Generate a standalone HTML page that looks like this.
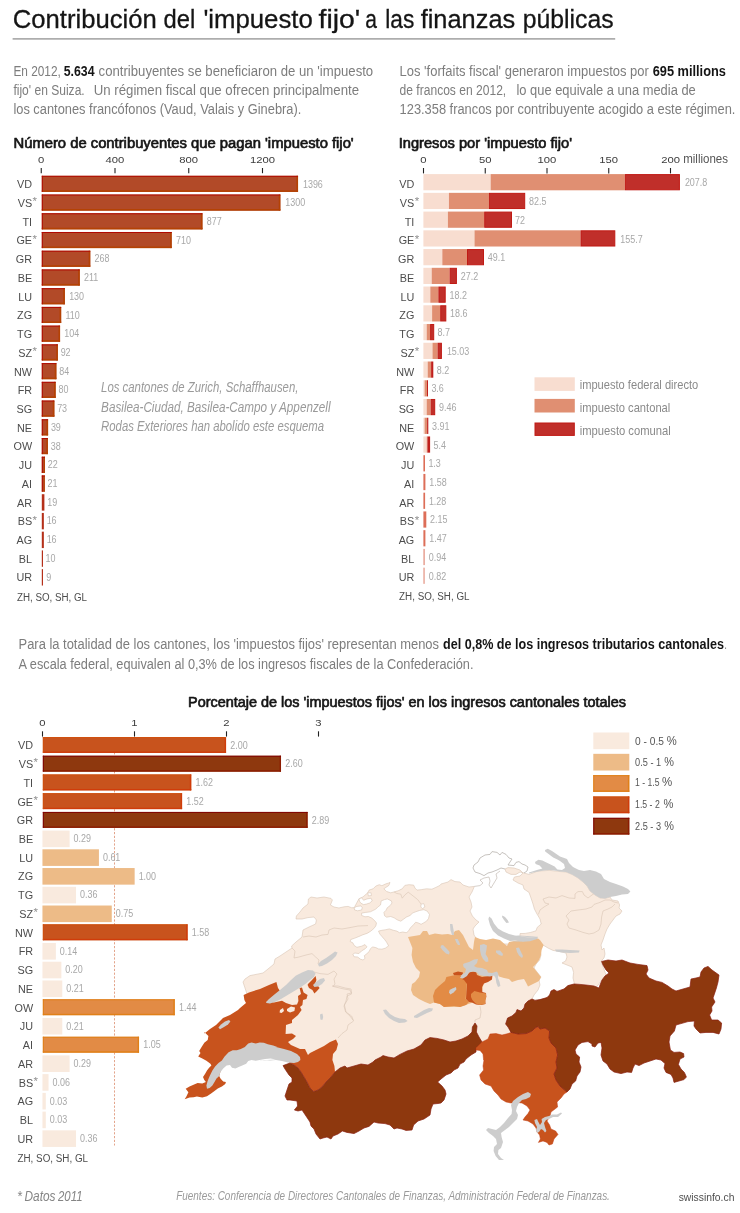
<!DOCTYPE html>
<html lang="es">
<head>
<meta charset="utf-8">
<title>Contribución del 'impuesto fijo' a las finanzas públicas</title>
<style>
html, body { margin: 0; padding: 0; background: #ffffff; }
body { width: 740px; height: 1213px; overflow: hidden; }
#graphic { display: block; width: 740px; height: 1213px; background: #ffffff; }
#graphic text { font-family: "Liberation Sans", sans-serif; white-space: pre; }
#title text { stroke: #151515; stroke-width: 0.3px; }
#chart-titles text { stroke: #151515; stroke-width: 0.65px; stroke-linejoin: round; }
</style>
</head>
<body>
<svg id="graphic" width="740" height="1213" viewBox="0 0 740 1213">
<g id="title">
<text y="28.40" font-size="26" fill="#151515"><tspan x="12.70" textLength="144.20" lengthAdjust="spacingAndGlyphs">Contribución</tspan> <tspan x="163.60" textLength="31.70" lengthAdjust="spacingAndGlyphs">del</tspan> <tspan x="203.40" textLength="109.40" lengthAdjust="spacingAndGlyphs">'impuesto</tspan> <tspan x="318.50" textLength="41.70" lengthAdjust="spacingAndGlyphs">fijo'</tspan> <tspan x="365.20" textLength="11.70" lengthAdjust="spacingAndGlyphs">a</tspan> <tspan x="385.30" textLength="29.00" lengthAdjust="spacingAndGlyphs">las</tspan> <tspan x="420.70" textLength="94.50" lengthAdjust="spacingAndGlyphs">finanzas</tspan> <tspan x="522.80" textLength="90.80" lengthAdjust="spacingAndGlyphs">públicas</tspan></text>
<rect x="12.60" y="38.20" width="602.60" height="1.40" fill="#9a9a9a"/>
</g>
<g id="intro-left">
<text x="13.40" y="75.50" font-size="14" fill="#7d7d7d" textLength="47.40" lengthAdjust="spacingAndGlyphs">En 2012,</text>
<text x="63.70" y="75.50" font-size="14" fill="#151515" textLength="30.80" lengthAdjust="spacingAndGlyphs" font-weight="bold">5.634</text>
<text x="98.60" y="75.50" font-size="14" fill="#7d7d7d" textLength="274.60" lengthAdjust="spacingAndGlyphs">contribuyentes se beneficiaron de un 'impuesto</text>
<text y="94.80" font-size="14" fill="#7d7d7d"><tspan x="13.40" textLength="71.30" lengthAdjust="spacingAndGlyphs">fijo' en Suiza.</tspan> <tspan x="93.70" textLength="265.40" lengthAdjust="spacingAndGlyphs">Un régimen fiscal que ofrecen principalmente</tspan></text>
<text x="13.40" y="113.50" font-size="14" fill="#7d7d7d" textLength="287.90" lengthAdjust="spacingAndGlyphs">los cantones francófonos (Vaud, Valais y Ginebra).</text>
</g>
<g id="intro-right">
<text x="399.60" y="75.50" font-size="14" fill="#7d7d7d" textLength="249.20" lengthAdjust="spacingAndGlyphs">Los 'forfaits fiscal' generaron impuestos por</text>
<text x="652.70" y="75.50" font-size="14" fill="#151515" textLength="73.20" lengthAdjust="spacingAndGlyphs" font-weight="bold">695 millions</text>
<text y="94.80" font-size="14" fill="#7d7d7d"><tspan x="399.60" textLength="106.60" lengthAdjust="spacingAndGlyphs">de francos en 2012,</tspan> <tspan x="516.40" textLength="179.40" lengthAdjust="spacingAndGlyphs">lo que equivale a una media de</tspan></text>
<text x="399.60" y="113.50" font-size="14" fill="#7d7d7d" textLength="335.80" lengthAdjust="spacingAndGlyphs">123.358 francos por contribuyente acogido a este régimen.</text>
</g>
<g id="chart-titles">
<text x="13.50" y="148.00" font-size="14" fill="#151515" textLength="340.20" lengthAdjust="spacingAndGlyphs">Número de contribuyentes que pagan 'impuesto fijo'</text>
<text x="398.75" y="148.00" font-size="14" fill="#151515" textLength="173.25" lengthAdjust="spacingAndGlyphs">Ingresos por 'impuesto fijo'</text>
<text x="188.00" y="706.50" font-size="14" fill="#151515" textLength="438.00" lengthAdjust="spacingAndGlyphs">Porcentaje de los 'impuestos fijos' en los ingresos cantonales totales</text>
</g>
<g id="chart1">
<line x1="41.25" y1="168.00" x2="41.25" y2="173.20" stroke="#222" stroke-width="1.1"/>
<text x="38.11" y="163.00" font-size="9.4" fill="#3c3c3c" textLength="6.27" lengthAdjust="spacingAndGlyphs">0</text>
<line x1="115.00" y1="168.00" x2="115.00" y2="173.20" stroke="#222" stroke-width="1.1"/>
<text x="105.59" y="163.00" font-size="9.4" fill="#3c3c3c" textLength="18.82" lengthAdjust="spacingAndGlyphs">400</text>
<line x1="188.75" y1="168.00" x2="188.75" y2="173.20" stroke="#222" stroke-width="1.1"/>
<text x="179.34" y="163.00" font-size="9.4" fill="#3c3c3c" textLength="18.82" lengthAdjust="spacingAndGlyphs">800</text>
<line x1="262.49" y1="168.00" x2="262.49" y2="173.20" stroke="#222" stroke-width="1.1"/>
<text x="249.95" y="163.00" font-size="9.4" fill="#3c3c3c" textLength="25.09" lengthAdjust="spacingAndGlyphs">1200</text>
<rect x="41.80" y="175.80" width="256.24" height="16.10" fill="#b24a28"/>
<rect x="41.80" y="190.30" width="256.24" height="1.60" fill="#b44204"/>
<rect x="296.44" y="175.80" width="1.60" height="16.10" fill="#b44204"/>
<rect x="41.80" y="175.80" width="256.24" height="1.00" fill="#b00a02"/>
<rect x="41.80" y="175.80" width="1.00" height="16.10" fill="#b00a02"/>
<text x="17.07" y="188.30" font-size="11.7" fill="#4d4d4d" textLength="15.03" lengthAdjust="spacingAndGlyphs">VD</text>
<text x="302.94" y="187.50" font-size="10" fill="#a8a8a8" textLength="19.91" lengthAdjust="spacingAndGlyphs">1396</text>
<rect x="41.80" y="194.53" width="238.56" height="16.10" fill="#b24a28"/>
<rect x="41.80" y="209.03" width="238.56" height="1.60" fill="#b44204"/>
<rect x="278.76" y="194.53" width="1.60" height="16.10" fill="#b44204"/>
<rect x="41.80" y="194.53" width="238.56" height="1.00" fill="#b00a02"/>
<rect x="41.80" y="194.53" width="1.00" height="16.10" fill="#b00a02"/>
<text x="17.66" y="207.02" font-size="11.7" fill="#4d4d4d" textLength="14.44" lengthAdjust="spacingAndGlyphs">VS</text>
<text x="32.60" y="205.42" font-size="11.5" fill="#909090" textLength="4.48" lengthAdjust="spacingAndGlyphs">*</text>
<text x="285.26" y="206.22" font-size="10" fill="#a8a8a8" textLength="19.91" lengthAdjust="spacingAndGlyphs">1300</text>
<rect x="41.80" y="213.26" width="160.64" height="16.10" fill="#b24a28"/>
<rect x="41.80" y="227.76" width="160.64" height="1.60" fill="#b44204"/>
<rect x="200.84" y="213.26" width="1.60" height="16.10" fill="#b44204"/>
<rect x="41.80" y="213.26" width="160.64" height="1.00" fill="#b00a02"/>
<rect x="41.80" y="213.26" width="1.00" height="16.10" fill="#b00a02"/>
<text x="22.48" y="225.74" font-size="11.7" fill="#4d4d4d" textLength="9.62" lengthAdjust="spacingAndGlyphs">TI</text>
<text x="206.74" y="224.94" font-size="10" fill="#a8a8a8" textLength="14.93" lengthAdjust="spacingAndGlyphs">877</text>
<rect x="41.80" y="231.99" width="129.88" height="16.10" fill="#b24a28"/>
<rect x="41.80" y="246.49" width="129.88" height="1.60" fill="#b44204"/>
<rect x="170.08" y="231.99" width="1.60" height="16.10" fill="#b44204"/>
<rect x="41.80" y="231.99" width="129.88" height="1.00" fill="#b00a02"/>
<rect x="41.80" y="231.99" width="1.00" height="16.10" fill="#b00a02"/>
<text x="16.46" y="244.46" font-size="11.7" fill="#4d4d4d" textLength="15.64" lengthAdjust="spacingAndGlyphs">GE</text>
<text x="32.60" y="242.86" font-size="11.5" fill="#909090" textLength="4.48" lengthAdjust="spacingAndGlyphs">*</text>
<text x="175.98" y="243.66" font-size="10" fill="#a8a8a8" textLength="14.93" lengthAdjust="spacingAndGlyphs">710</text>
<rect x="41.80" y="250.72" width="48.47" height="16.10" fill="#b24a28"/>
<rect x="41.80" y="265.22" width="48.47" height="1.60" fill="#b44204"/>
<rect x="88.67" y="250.72" width="1.60" height="16.10" fill="#b44204"/>
<rect x="41.80" y="250.72" width="48.47" height="1.00" fill="#b00a02"/>
<rect x="41.80" y="250.72" width="1.00" height="16.10" fill="#b00a02"/>
<text x="15.87" y="263.18" font-size="11.7" fill="#4d4d4d" textLength="16.23" lengthAdjust="spacingAndGlyphs">GR</text>
<text x="94.57" y="262.38" font-size="10" fill="#a8a8a8" textLength="14.93" lengthAdjust="spacingAndGlyphs">268</text>
<rect x="41.80" y="269.45" width="37.97" height="16.10" fill="#b24a28"/>
<rect x="41.80" y="283.95" width="37.97" height="1.60" fill="#b44204"/>
<rect x="78.17" y="269.45" width="1.60" height="16.10" fill="#b44204"/>
<rect x="41.80" y="269.45" width="37.97" height="1.00" fill="#b00a02"/>
<rect x="41.80" y="269.45" width="1.00" height="16.10" fill="#b00a02"/>
<text x="17.66" y="281.90" font-size="11.7" fill="#4d4d4d" textLength="14.44" lengthAdjust="spacingAndGlyphs">BE</text>
<text x="84.07" y="281.10" font-size="10" fill="#a8a8a8" textLength="14.27" lengthAdjust="spacingAndGlyphs">211</text>
<rect x="41.80" y="288.18" width="23.05" height="16.10" fill="#b24a28"/>
<rect x="41.80" y="302.68" width="23.05" height="1.60" fill="#b44204"/>
<rect x="63.25" y="288.18" width="1.60" height="16.10" fill="#b44204"/>
<rect x="41.80" y="288.18" width="23.05" height="1.00" fill="#b00a02"/>
<rect x="41.80" y="288.18" width="1.00" height="16.10" fill="#b00a02"/>
<text x="18.27" y="300.62" font-size="11.7" fill="#4d4d4d" textLength="13.83" lengthAdjust="spacingAndGlyphs">LU</text>
<text x="69.15" y="299.82" font-size="10" fill="#a8a8a8" textLength="14.93" lengthAdjust="spacingAndGlyphs">130</text>
<rect x="41.80" y="306.91" width="19.36" height="16.10" fill="#b24a28"/>
<rect x="41.80" y="321.41" width="19.36" height="1.60" fill="#b44204"/>
<rect x="59.56" y="306.91" width="1.60" height="16.10" fill="#b44204"/>
<rect x="41.80" y="306.91" width="19.36" height="1.00" fill="#b00a02"/>
<rect x="41.80" y="306.91" width="1.00" height="16.10" fill="#b00a02"/>
<text x="17.07" y="319.34" font-size="11.7" fill="#4d4d4d" textLength="15.03" lengthAdjust="spacingAndGlyphs">ZG</text>
<text x="65.46" y="318.54" font-size="10" fill="#a8a8a8" textLength="14.27" lengthAdjust="spacingAndGlyphs">110</text>
<rect x="41.80" y="325.64" width="18.26" height="16.10" fill="#b24a28"/>
<rect x="41.80" y="340.14" width="18.26" height="1.60" fill="#b44204"/>
<rect x="58.46" y="325.64" width="1.60" height="16.10" fill="#b44204"/>
<rect x="41.80" y="325.64" width="18.26" height="1.00" fill="#b00a02"/>
<rect x="41.80" y="325.64" width="1.00" height="16.10" fill="#b00a02"/>
<text x="17.07" y="338.06" font-size="11.7" fill="#4d4d4d" textLength="15.03" lengthAdjust="spacingAndGlyphs">TG</text>
<text x="64.36" y="337.26" font-size="10" fill="#a8a8a8" textLength="14.93" lengthAdjust="spacingAndGlyphs">104</text>
<rect x="41.80" y="344.37" width="16.05" height="16.10" fill="#b24a28"/>
<rect x="41.80" y="358.87" width="16.05" height="1.60" fill="#b44204"/>
<rect x="56.25" y="344.37" width="1.60" height="16.10" fill="#b44204"/>
<rect x="41.80" y="344.37" width="16.05" height="1.00" fill="#b00a02"/>
<rect x="41.80" y="344.37" width="1.00" height="16.10" fill="#b00a02"/>
<text x="18.27" y="356.78" font-size="11.7" fill="#4d4d4d" textLength="13.83" lengthAdjust="spacingAndGlyphs">SZ</text>
<text x="32.60" y="355.18" font-size="11.5" fill="#909090" textLength="4.48" lengthAdjust="spacingAndGlyphs">*</text>
<text x="60.65" y="355.98" font-size="10" fill="#a8a8a8" textLength="9.96" lengthAdjust="spacingAndGlyphs">92</text>
<rect x="41.80" y="363.10" width="14.57" height="16.10" fill="#b24a28"/>
<rect x="41.80" y="377.60" width="14.57" height="1.60" fill="#b44204"/>
<rect x="54.77" y="363.10" width="1.60" height="16.10" fill="#b44204"/>
<rect x="41.80" y="363.10" width="14.57" height="1.00" fill="#b00a02"/>
<rect x="41.80" y="363.10" width="1.00" height="16.10" fill="#b00a02"/>
<text x="14.07" y="375.50" font-size="11.7" fill="#4d4d4d" textLength="18.03" lengthAdjust="spacingAndGlyphs">NW</text>
<text x="59.17" y="374.70" font-size="10" fill="#a8a8a8" textLength="9.96" lengthAdjust="spacingAndGlyphs">84</text>
<rect x="41.80" y="381.83" width="13.84" height="16.10" fill="#b24a28"/>
<rect x="41.80" y="396.33" width="13.84" height="1.60" fill="#b44204"/>
<rect x="54.04" y="381.83" width="1.60" height="16.10" fill="#b44204"/>
<rect x="41.80" y="381.83" width="13.84" height="1.00" fill="#b00a02"/>
<rect x="41.80" y="381.83" width="1.00" height="16.10" fill="#b00a02"/>
<text x="17.67" y="394.22" font-size="11.7" fill="#4d4d4d" textLength="14.43" lengthAdjust="spacingAndGlyphs">FR</text>
<text x="58.44" y="393.42" font-size="10" fill="#a8a8a8" textLength="9.96" lengthAdjust="spacingAndGlyphs">80</text>
<rect x="41.80" y="400.56" width="12.55" height="16.10" fill="#b24a28"/>
<rect x="41.80" y="415.06" width="12.55" height="1.60" fill="#b44204"/>
<rect x="52.75" y="400.56" width="1.60" height="16.10" fill="#b44204"/>
<rect x="41.80" y="400.56" width="12.55" height="1.00" fill="#b00a02"/>
<rect x="41.80" y="400.56" width="1.00" height="16.10" fill="#b00a02"/>
<text x="16.46" y="412.94" font-size="11.7" fill="#4d4d4d" textLength="15.64" lengthAdjust="spacingAndGlyphs">SG</text>
<text x="57.15" y="412.14" font-size="10" fill="#a8a8a8" textLength="9.96" lengthAdjust="spacingAndGlyphs">73</text>
<rect x="41.80" y="419.29" width="6.28" height="16.10" fill="#b24a28"/>
<rect x="41.80" y="433.79" width="6.28" height="1.60" fill="#b44204"/>
<rect x="46.48" y="419.29" width="1.60" height="16.10" fill="#b44204"/>
<rect x="41.80" y="419.29" width="6.28" height="1.00" fill="#b00a02"/>
<rect x="41.80" y="419.29" width="1.00" height="16.10" fill="#b00a02"/>
<text x="17.07" y="431.66" font-size="11.7" fill="#4d4d4d" textLength="15.03" lengthAdjust="spacingAndGlyphs">NE</text>
<text x="50.88" y="430.86" font-size="10" fill="#a8a8a8" textLength="9.96" lengthAdjust="spacingAndGlyphs">39</text>
<rect x="41.80" y="438.02" width="6.10" height="16.10" fill="#b24a28"/>
<rect x="41.80" y="452.52" width="6.10" height="1.60" fill="#b44204"/>
<rect x="46.30" y="438.02" width="1.60" height="16.10" fill="#b44204"/>
<rect x="41.80" y="438.02" width="6.10" height="1.00" fill="#b00a02"/>
<rect x="41.80" y="438.02" width="1.00" height="16.10" fill="#b00a02"/>
<text x="13.47" y="450.38" font-size="11.7" fill="#4d4d4d" textLength="18.63" lengthAdjust="spacingAndGlyphs">OW</text>
<text x="50.70" y="449.58" font-size="10" fill="#a8a8a8" textLength="9.96" lengthAdjust="spacingAndGlyphs">38</text>
<rect x="41.80" y="456.75" width="3.15" height="16.10" fill="#b24a28"/>
<rect x="41.80" y="471.80" width="3.15" height="1.05" fill="#b44204"/>
<rect x="43.90" y="456.75" width="1.05" height="16.10" fill="#b44204"/>
<rect x="41.80" y="456.75" width="3.15" height="1.00" fill="#b00a02"/>
<rect x="41.80" y="456.75" width="1.00" height="16.10" fill="#b00a02"/>
<text x="18.87" y="469.10" font-size="11.7" fill="#4d4d4d" textLength="13.23" lengthAdjust="spacingAndGlyphs">JU</text>
<text x="47.75" y="468.30" font-size="10" fill="#a8a8a8" textLength="9.96" lengthAdjust="spacingAndGlyphs">22</text>
<rect x="41.80" y="475.48" width="2.97" height="16.10" fill="#b24a28"/>
<rect x="41.80" y="490.59" width="2.97" height="0.99" fill="#b44204"/>
<rect x="43.78" y="475.48" width="0.99" height="16.10" fill="#b44204"/>
<rect x="41.80" y="475.48" width="2.97" height="1.00" fill="#b00a02"/>
<rect x="41.80" y="475.48" width="1.00" height="16.10" fill="#b00a02"/>
<text x="21.87" y="487.82" font-size="11.7" fill="#4d4d4d" textLength="10.23" lengthAdjust="spacingAndGlyphs">AI</text>
<text x="47.57" y="487.02" font-size="10" fill="#a8a8a8" textLength="9.96" lengthAdjust="spacingAndGlyphs">21</text>
<rect x="41.80" y="494.21" width="2.60" height="16.40" fill="#b5301a"/>
<text x="17.07" y="506.54" font-size="11.7" fill="#4d4d4d" textLength="15.03" lengthAdjust="spacingAndGlyphs">AR</text>
<text x="47.20" y="505.74" font-size="10" fill="#a8a8a8" textLength="9.96" lengthAdjust="spacingAndGlyphs">19</text>
<rect x="41.80" y="512.94" width="2.05" height="16.40" fill="#b5301a"/>
<text x="17.66" y="525.26" font-size="11.7" fill="#4d4d4d" textLength="14.44" lengthAdjust="spacingAndGlyphs">BS</text>
<text x="32.60" y="523.66" font-size="11.5" fill="#909090" textLength="4.48" lengthAdjust="spacingAndGlyphs">*</text>
<text x="46.65" y="524.46" font-size="10" fill="#a8a8a8" textLength="9.96" lengthAdjust="spacingAndGlyphs">16</text>
<rect x="41.80" y="531.67" width="2.05" height="16.40" fill="#b5301a"/>
<text x="16.46" y="543.98" font-size="11.7" fill="#4d4d4d" textLength="15.64" lengthAdjust="spacingAndGlyphs">AG</text>
<text x="46.65" y="543.18" font-size="10" fill="#a8a8a8" textLength="9.96" lengthAdjust="spacingAndGlyphs">16</text>
<rect x="41.80" y="550.40" width="1.20" height="16.40" fill="#b5301a"/>
<text x="18.86" y="562.70" font-size="11.7" fill="#4d4d4d" textLength="13.24" lengthAdjust="spacingAndGlyphs">BL</text>
<text x="45.54" y="561.90" font-size="10" fill="#a8a8a8" textLength="9.96" lengthAdjust="spacingAndGlyphs">10</text>
<rect x="41.80" y="569.13" width="1.20" height="16.40" fill="#b5301a"/>
<text x="16.47" y="581.42" font-size="11.7" fill="#4d4d4d" textLength="15.63" lengthAdjust="spacingAndGlyphs">UR</text>
<text x="46.16" y="580.62" font-size="10" fill="#a8a8a8" textLength="4.98" lengthAdjust="spacingAndGlyphs">9</text>
<text x="17.00" y="600.50" font-size="11.7" fill="#4d4d4d" textLength="70.00" lengthAdjust="spacingAndGlyphs">ZH, SO, SH, GL</text>
<text x="101.10" y="392.30" font-size="14" fill="#9a9a9a" textLength="197.30" lengthAdjust="spacingAndGlyphs" font-style="italic">Los cantones de Zurich, Schaffhausen,</text>
<text x="101.10" y="411.60" font-size="14" fill="#9a9a9a" textLength="229.40" lengthAdjust="spacingAndGlyphs" font-style="italic">Basilea-Ciudad, Basilea-Campo y Appenzell</text>
<text x="101.10" y="430.80" font-size="14" fill="#9a9a9a" textLength="223.00" lengthAdjust="spacingAndGlyphs" font-style="italic">Rodas Exteriores han abolido este esquema</text>
</g>
<g id="chart2">
<line x1="423.50" y1="168.00" x2="423.50" y2="173.40" stroke="#222" stroke-width="1.1"/>
<text x="420.36" y="162.80" font-size="9.4" fill="#3c3c3c" textLength="6.27" lengthAdjust="spacingAndGlyphs">0</text>
<line x1="485.25" y1="168.00" x2="485.25" y2="173.40" stroke="#222" stroke-width="1.1"/>
<text x="478.98" y="162.80" font-size="9.4" fill="#3c3c3c" textLength="12.55" lengthAdjust="spacingAndGlyphs">50</text>
<line x1="547.00" y1="168.00" x2="547.00" y2="173.40" stroke="#222" stroke-width="1.1"/>
<text x="537.59" y="162.80" font-size="9.4" fill="#3c3c3c" textLength="18.82" lengthAdjust="spacingAndGlyphs">100</text>
<line x1="608.75" y1="168.00" x2="608.75" y2="173.40" stroke="#222" stroke-width="1.1"/>
<text x="599.34" y="162.80" font-size="9.4" fill="#3c3c3c" textLength="18.82" lengthAdjust="spacingAndGlyphs">150</text>
<line x1="670.50" y1="168.00" x2="670.50" y2="173.40" stroke="#222" stroke-width="1.1"/>
<text x="661.20" y="162.80" font-size="9.4" fill="#3c3c3c" textLength="18.80" lengthAdjust="spacingAndGlyphs">200</text>
<text x="683.20" y="162.80" font-size="13" fill="#555" textLength="44.80" lengthAdjust="spacingAndGlyphs">milliones</text>
<rect x="423.40" y="174.10" width="67.25" height="16.20" fill="#f8ddd0"/>
<rect x="490.65" y="174.10" width="134.25" height="16.20" fill="#e08f72"/>
<rect x="625.40" y="174.60" width="54.00" height="15.20" fill="#c02f2a" stroke="#c01a14" stroke-width="1.0"/>
<text x="399.27" y="188.30" font-size="11.7" fill="#4d4d4d" textLength="15.03" lengthAdjust="spacingAndGlyphs">VD</text>
<text x="684.90" y="186.40" font-size="10" fill="#a8a8a8" textLength="22.40" lengthAdjust="spacingAndGlyphs">207.8</text>
<rect x="423.40" y="192.84" width="25.55" height="16.20" fill="#f8ddd0"/>
<rect x="448.95" y="192.84" width="39.95" height="16.20" fill="#e08f72"/>
<rect x="489.40" y="193.34" width="35.30" height="15.20" fill="#c02f2a" stroke="#c01a14" stroke-width="1.0"/>
<text x="399.86" y="207.02" font-size="11.7" fill="#4d4d4d" textLength="14.44" lengthAdjust="spacingAndGlyphs">VS</text>
<text x="414.80" y="205.42" font-size="11.5" fill="#909090" textLength="4.48" lengthAdjust="spacingAndGlyphs">*</text>
<text x="529.00" y="205.12" font-size="10" fill="#a8a8a8" textLength="17.42" lengthAdjust="spacingAndGlyphs">82.5</text>
<rect x="423.40" y="211.58" width="24.50" height="16.20" fill="#f8ddd0"/>
<rect x="447.90" y="211.58" width="36.30" height="16.20" fill="#e08f72"/>
<rect x="484.70" y="212.08" width="26.80" height="15.20" fill="#c02f2a" stroke="#c01a14" stroke-width="1.0"/>
<text x="404.68" y="225.74" font-size="11.7" fill="#4d4d4d" textLength="9.62" lengthAdjust="spacingAndGlyphs">TI</text>
<text x="515.00" y="223.85" font-size="10" fill="#a8a8a8" textLength="9.96" lengthAdjust="spacingAndGlyphs">72</text>
<rect x="423.40" y="230.32" width="51.10" height="16.20" fill="#f8ddd0"/>
<rect x="474.50" y="230.32" width="106.00" height="16.20" fill="#e08f72"/>
<rect x="581.00" y="230.82" width="33.80" height="15.20" fill="#c02f2a" stroke="#c01a14" stroke-width="1.0"/>
<text x="398.66" y="244.46" font-size="11.7" fill="#4d4d4d" textLength="15.64" lengthAdjust="spacingAndGlyphs">GE</text>
<text x="414.80" y="242.86" font-size="11.5" fill="#909090" textLength="4.48" lengthAdjust="spacingAndGlyphs">*</text>
<text x="620.30" y="242.58" font-size="10" fill="#a8a8a8" textLength="22.40" lengthAdjust="spacingAndGlyphs">155.7</text>
<rect x="423.40" y="249.06" width="18.90" height="16.20" fill="#f8ddd0"/>
<rect x="442.30" y="249.06" width="24.70" height="16.20" fill="#e08f72"/>
<rect x="467.50" y="249.56" width="16.00" height="15.20" fill="#c02f2a" stroke="#c01a14" stroke-width="1.0"/>
<text x="398.07" y="263.18" font-size="11.7" fill="#4d4d4d" textLength="16.23" lengthAdjust="spacingAndGlyphs">GR</text>
<text x="487.80" y="261.30" font-size="10" fill="#a8a8a8" textLength="17.42" lengthAdjust="spacingAndGlyphs">49.1</text>
<rect x="423.40" y="267.80" width="8.30" height="16.20" fill="#f8ddd0"/>
<rect x="431.70" y="267.80" width="17.90" height="16.20" fill="#e08f72"/>
<rect x="450.10" y="268.30" width="6.30" height="15.20" fill="#c02f2a" stroke="#c01a14" stroke-width="1.0"/>
<text x="399.86" y="281.90" font-size="11.7" fill="#4d4d4d" textLength="14.44" lengthAdjust="spacingAndGlyphs">BE</text>
<text x="460.70" y="280.02" font-size="10" fill="#a8a8a8" textLength="17.42" lengthAdjust="spacingAndGlyphs">27.2</text>
<rect x="423.40" y="286.54" width="6.90" height="16.20" fill="#f8ddd0"/>
<rect x="430.30" y="286.54" width="8.10" height="16.20" fill="#e08f72"/>
<rect x="438.90" y="287.04" width="6.30" height="15.20" fill="#c02f2a" stroke="#c01a14" stroke-width="1.0"/>
<text x="400.47" y="300.62" font-size="11.7" fill="#4d4d4d" textLength="13.83" lengthAdjust="spacingAndGlyphs">LU</text>
<text x="449.50" y="298.75" font-size="10" fill="#a8a8a8" textLength="17.42" lengthAdjust="spacingAndGlyphs">18.2</text>
<rect x="423.40" y="305.28" width="8.70" height="16.20" fill="#f8ddd0"/>
<rect x="432.10" y="305.28" width="8.10" height="16.20" fill="#e08f72"/>
<rect x="440.70" y="305.78" width="5.10" height="15.20" fill="#c02f2a" stroke="#c01a14" stroke-width="1.0"/>
<text x="399.27" y="319.34" font-size="11.7" fill="#4d4d4d" textLength="15.03" lengthAdjust="spacingAndGlyphs">ZG</text>
<text x="450.10" y="317.48" font-size="10" fill="#a8a8a8" textLength="17.42" lengthAdjust="spacingAndGlyphs">18.6</text>
<rect x="423.40" y="324.02" width="3.30" height="16.20" fill="#f8ddd0"/>
<rect x="426.70" y="324.02" width="3.40" height="16.20" fill="#e08f72"/>
<rect x="430.60" y="324.52" width="3.10" height="15.20" fill="#c02f2a" stroke="#c01a14" stroke-width="1.0"/>
<text x="399.27" y="338.06" font-size="11.7" fill="#4d4d4d" textLength="15.03" lengthAdjust="spacingAndGlyphs">TG</text>
<text x="437.60" y="336.20" font-size="10" fill="#a8a8a8" textLength="12.44" lengthAdjust="spacingAndGlyphs">8.7</text>
<rect x="423.40" y="342.76" width="9.10" height="16.20" fill="#f8ddd0"/>
<rect x="432.50" y="342.76" width="5.10" height="16.20" fill="#e08f72"/>
<rect x="438.10" y="343.26" width="3.30" height="15.20" fill="#c02f2a" stroke="#c01a14" stroke-width="1.0"/>
<text x="400.47" y="356.78" font-size="11.7" fill="#4d4d4d" textLength="13.83" lengthAdjust="spacingAndGlyphs">SZ</text>
<text x="414.80" y="355.18" font-size="11.5" fill="#909090" textLength="4.48" lengthAdjust="spacingAndGlyphs">*</text>
<text x="446.90" y="354.93" font-size="10" fill="#a8a8a8" textLength="22.40" lengthAdjust="spacingAndGlyphs">15.03</text>
<rect x="423.40" y="361.50" width="4.30" height="16.20" fill="#f8ddd0"/>
<rect x="427.70" y="361.50" width="3.40" height="16.20" fill="#e08f72"/>
<rect x="431.10" y="361.50" width="2.20" height="16.20" fill="#c0201c"/>
<text x="396.27" y="375.50" font-size="11.7" fill="#4d4d4d" textLength="18.03" lengthAdjust="spacingAndGlyphs">NW</text>
<text x="436.70" y="373.65" font-size="10" fill="#a8a8a8" textLength="12.44" lengthAdjust="spacingAndGlyphs">8.2</text>
<rect x="423.40" y="380.24" width="1.20" height="16.20" fill="#f8ddd0"/>
<rect x="424.60" y="380.24" width="2.40" height="16.20" fill="#e08f72"/>
<rect x="427.00" y="380.24" width="1.00" height="16.20" fill="#c0201c"/>
<text x="399.87" y="394.22" font-size="11.7" fill="#4d4d4d" textLength="14.43" lengthAdjust="spacingAndGlyphs">FR</text>
<text x="431.40" y="392.38" font-size="10" fill="#a8a8a8" textLength="12.44" lengthAdjust="spacingAndGlyphs">3.6</text>
<rect x="423.40" y="398.98" width="3.30" height="16.20" fill="#f8ddd0"/>
<rect x="426.70" y="398.98" width="4.00" height="16.20" fill="#e08f72"/>
<rect x="431.20" y="399.48" width="3.50" height="15.20" fill="#c02f2a" stroke="#c01a14" stroke-width="1.0"/>
<text x="398.66" y="412.94" font-size="11.7" fill="#4d4d4d" textLength="15.64" lengthAdjust="spacingAndGlyphs">SG</text>
<text x="439.00" y="411.10" font-size="10" fill="#a8a8a8" textLength="17.42" lengthAdjust="spacingAndGlyphs">9.46</text>
<rect x="423.40" y="417.72" width="1.20" height="16.20" fill="#f8ddd0"/>
<rect x="424.60" y="417.72" width="2.50" height="16.20" fill="#e08f72"/>
<rect x="427.10" y="417.72" width="1.20" height="16.20" fill="#c0201c"/>
<text x="399.27" y="431.66" font-size="11.7" fill="#4d4d4d" textLength="15.03" lengthAdjust="spacingAndGlyphs">NE</text>
<text x="432.10" y="429.83" font-size="10" fill="#a8a8a8" textLength="17.42" lengthAdjust="spacingAndGlyphs">3.91</text>
<rect x="423.40" y="436.46" width="3.30" height="16.20" fill="#f8ddd0"/>
<rect x="426.70" y="436.46" width="0.70" height="16.20" fill="#e08f72"/>
<rect x="427.40" y="436.46" width="2.70" height="16.20" fill="#c0201c"/>
<text x="395.67" y="450.38" font-size="11.7" fill="#4d4d4d" textLength="18.63" lengthAdjust="spacingAndGlyphs">OW</text>
<text x="433.50" y="448.55" font-size="10" fill="#a8a8a8" textLength="12.44" lengthAdjust="spacingAndGlyphs">5.4</text>
<rect x="423.40" y="455.20" width="1.60" height="16.20" fill="#dd6e58"/>
<text x="401.07" y="469.10" font-size="11.7" fill="#4d4d4d" textLength="13.23" lengthAdjust="spacingAndGlyphs">JU</text>
<text x="428.40" y="467.27" font-size="10" fill="#a8a8a8" textLength="12.44" lengthAdjust="spacingAndGlyphs">1.3</text>
<rect x="423.40" y="473.94" width="2.00" height="16.20" fill="#dd6e58"/>
<text x="404.07" y="487.82" font-size="11.7" fill="#4d4d4d" textLength="10.23" lengthAdjust="spacingAndGlyphs">AI</text>
<text x="429.20" y="486.00" font-size="10" fill="#a8a8a8" textLength="17.42" lengthAdjust="spacingAndGlyphs">1.58</text>
<rect x="423.40" y="492.68" width="1.70" height="16.20" fill="#dd6e58"/>
<text x="399.27" y="506.54" font-size="11.7" fill="#4d4d4d" textLength="15.03" lengthAdjust="spacingAndGlyphs">AR</text>
<text x="428.90" y="504.73" font-size="10" fill="#a8a8a8" textLength="17.42" lengthAdjust="spacingAndGlyphs">1.28</text>
<rect x="423.40" y="511.42" width="2.90" height="16.20" fill="#dd6e58"/>
<text x="399.86" y="525.26" font-size="11.7" fill="#4d4d4d" textLength="14.44" lengthAdjust="spacingAndGlyphs">BS</text>
<text x="414.80" y="523.66" font-size="11.5" fill="#909090" textLength="4.48" lengthAdjust="spacingAndGlyphs">*</text>
<text x="430.10" y="523.45" font-size="10" fill="#a8a8a8" textLength="17.42" lengthAdjust="spacingAndGlyphs">2.15</text>
<rect x="423.40" y="530.16" width="2.00" height="16.20" fill="#dd6e58"/>
<text x="398.66" y="543.98" font-size="11.7" fill="#4d4d4d" textLength="15.64" lengthAdjust="spacingAndGlyphs">AG</text>
<text x="429.20" y="542.18" font-size="10" fill="#a8a8a8" textLength="17.42" lengthAdjust="spacingAndGlyphs">1.47</text>
<rect x="423.40" y="548.90" width="1.40" height="16.20" fill="#e59a8a"/>
<text x="401.06" y="562.70" font-size="11.7" fill="#4d4d4d" textLength="13.24" lengthAdjust="spacingAndGlyphs">BL</text>
<text x="428.70" y="560.90" font-size="10" fill="#a8a8a8" textLength="17.42" lengthAdjust="spacingAndGlyphs">0.94</text>
<rect x="423.40" y="567.64" width="1.30" height="16.20" fill="#e59a8a"/>
<text x="398.67" y="581.42" font-size="11.7" fill="#4d4d4d" textLength="15.63" lengthAdjust="spacingAndGlyphs">UR</text>
<text x="428.70" y="579.62" font-size="10" fill="#a8a8a8" textLength="17.42" lengthAdjust="spacingAndGlyphs">0.82</text>
<text x="399.10" y="600.30" font-size="11.7" fill="#4d4d4d" textLength="70.40" lengthAdjust="spacingAndGlyphs">ZH, SO, SH, GL</text>
<rect x="534.50" y="377.30" width="40.30" height="13.60" fill="#f8ddd0"/>
<rect x="534.50" y="398.90" width="40.30" height="13.60" fill="#e08f72"/>
<rect x="535.00" y="423.00" width="39.30" height="12.40" fill="#c02f2a" stroke="#c01a14" stroke-width="1.0"/>
<text x="579.70" y="388.60" font-size="13" fill="#8a8a8a" textLength="118.60" lengthAdjust="spacingAndGlyphs">impuesto federal directo</text>
<text x="579.70" y="412.40" font-size="13" fill="#8a8a8a" textLength="90.60" lengthAdjust="spacingAndGlyphs">impuesto cantonal</text>
<text x="579.70" y="434.80" font-size="13" fill="#8a8a8a" textLength="91.10" lengthAdjust="spacingAndGlyphs">impuesto comunal</text>
</g>
<g id="middle">
<text x="18.50" y="649.40" font-size="14" fill="#7d7d7d" textLength="420.50" lengthAdjust="spacingAndGlyphs">Para la totalidad de los cantones, los 'impuestos fijos' representan menos</text>
<text x="443.00" y="649.40" font-size="14" fill="#151515" textLength="281.00" lengthAdjust="spacingAndGlyphs" font-weight="bold">del 0,8% de los ingresos tributarios cantonales</text>
<text x="724.30" y="649.40" font-size="14" fill="#7d7d7d" textLength="2.70" lengthAdjust="spacingAndGlyphs">.</text>
<text x="18.50" y="668.60" font-size="14" fill="#7d7d7d" textLength="455.00" lengthAdjust="spacingAndGlyphs">A escala federal, equivalen al 0,3% de los ingresos fiscales de la Confederación.</text>
</g>
<g id="chart3">
<line x1="42.50" y1="731.30" x2="42.50" y2="736.60" stroke="#222" stroke-width="1.1"/>
<text x="39.36" y="725.80" font-size="9.4" fill="#3c3c3c" textLength="6.27" lengthAdjust="spacingAndGlyphs">0</text>
<line x1="134.50" y1="731.30" x2="134.50" y2="736.60" stroke="#222" stroke-width="1.1"/>
<text x="131.36" y="725.80" font-size="9.4" fill="#3c3c3c" textLength="6.27" lengthAdjust="spacingAndGlyphs">1</text>
<line x1="226.50" y1="731.30" x2="226.50" y2="736.60" stroke="#222" stroke-width="1.1"/>
<text x="223.36" y="725.80" font-size="9.4" fill="#3c3c3c" textLength="6.27" lengthAdjust="spacingAndGlyphs">2</text>
<line x1="318.50" y1="731.30" x2="318.50" y2="736.60" stroke="#222" stroke-width="1.1"/>
<text x="315.36" y="725.80" font-size="9.4" fill="#3c3c3c" textLength="6.27" lengthAdjust="spacingAndGlyphs">3</text>
<line x1="114.50" y1="737.00" x2="114.50" y2="1145.50" stroke="#e3a58c" stroke-width="1" stroke-dasharray="2.2 1.6"/>
<rect x="42.85" y="737.00" width="183.20" height="15.90" fill="#c8531d"/>
<rect x="42.85" y="751.50" width="183.20" height="1.40" fill="#d03c0a"/>
<rect x="224.65" y="737.00" width="1.40" height="15.90" fill="#d03c0a"/>
<rect x="42.85" y="737.00" width="183.20" height="1.00" fill="#d0500f"/>
<rect x="42.85" y="737.00" width="1.00" height="15.90" fill="#d0500f"/>
<text x="18.07" y="749.30" font-size="11.7" fill="#4d4d4d" textLength="15.03" lengthAdjust="spacingAndGlyphs">VD</text>
<text x="230.25" y="748.60" font-size="10" fill="#a8a8a8" textLength="17.42" lengthAdjust="spacingAndGlyphs">2.00</text>
<rect x="42.85" y="755.74" width="238.16" height="15.90" fill="#8e380e"/>
<rect x="42.85" y="770.24" width="238.16" height="1.40" fill="#8c1c02"/>
<rect x="279.61" y="755.74" width="1.40" height="15.90" fill="#8c1c02"/>
<rect x="42.85" y="755.74" width="238.16" height="1.00" fill="#800404"/>
<rect x="42.85" y="755.74" width="1.00" height="15.90" fill="#800404"/>
<text x="18.66" y="768.03" font-size="11.7" fill="#4d4d4d" textLength="14.44" lengthAdjust="spacingAndGlyphs">VS</text>
<text x="33.60" y="766.43" font-size="11.5" fill="#909090" textLength="4.48" lengthAdjust="spacingAndGlyphs">*</text>
<text x="285.21" y="767.34" font-size="10" fill="#a8a8a8" textLength="17.42" lengthAdjust="spacingAndGlyphs">2.60</text>
<rect x="42.85" y="774.47" width="148.39" height="15.90" fill="#c8531d"/>
<rect x="42.85" y="788.97" width="148.39" height="1.40" fill="#d03c0a"/>
<rect x="189.84" y="774.47" width="1.40" height="15.90" fill="#d03c0a"/>
<rect x="42.85" y="774.47" width="148.39" height="1.00" fill="#d0500f"/>
<rect x="42.85" y="774.47" width="1.00" height="15.90" fill="#d0500f"/>
<text x="23.48" y="786.77" font-size="11.7" fill="#4d4d4d" textLength="9.62" lengthAdjust="spacingAndGlyphs">TI</text>
<text x="195.44" y="786.07" font-size="10" fill="#a8a8a8" textLength="17.42" lengthAdjust="spacingAndGlyphs">1.62</text>
<rect x="42.85" y="793.21" width="139.23" height="15.90" fill="#c8531d"/>
<rect x="42.85" y="807.71" width="139.23" height="1.40" fill="#d03c0a"/>
<rect x="180.68" y="793.21" width="1.40" height="15.90" fill="#d03c0a"/>
<rect x="42.85" y="793.21" width="139.23" height="1.00" fill="#d0500f"/>
<rect x="42.85" y="793.21" width="1.00" height="15.90" fill="#d0500f"/>
<text x="17.46" y="805.50" font-size="11.7" fill="#4d4d4d" textLength="15.64" lengthAdjust="spacingAndGlyphs">GE</text>
<text x="33.60" y="803.90" font-size="11.5" fill="#909090" textLength="4.48" lengthAdjust="spacingAndGlyphs">*</text>
<text x="186.28" y="804.81" font-size="10" fill="#a8a8a8" textLength="17.42" lengthAdjust="spacingAndGlyphs">1.52</text>
<rect x="42.85" y="811.94" width="264.72" height="15.90" fill="#8e380e"/>
<rect x="42.85" y="826.44" width="264.72" height="1.40" fill="#8c1c02"/>
<rect x="306.17" y="811.94" width="1.40" height="15.90" fill="#8c1c02"/>
<rect x="42.85" y="811.94" width="264.72" height="1.00" fill="#800404"/>
<rect x="42.85" y="811.94" width="1.00" height="15.90" fill="#800404"/>
<text x="16.87" y="824.24" font-size="11.7" fill="#4d4d4d" textLength="16.23" lengthAdjust="spacingAndGlyphs">GR</text>
<text x="311.77" y="823.54" font-size="10" fill="#a8a8a8" textLength="17.42" lengthAdjust="spacingAndGlyphs">2.89</text>
<rect x="42.45" y="830.57" width="27.16" height="16.60" fill="#f9eade"/>
<text x="18.66" y="842.97" font-size="11.7" fill="#4d4d4d" textLength="14.44" lengthAdjust="spacingAndGlyphs">BE</text>
<text x="73.61" y="842.27" font-size="10" fill="#a8a8a8" textLength="17.42" lengthAdjust="spacingAndGlyphs">0.29</text>
<rect x="42.45" y="849.31" width="56.48" height="16.60" fill="#edbb87"/>
<text x="19.27" y="861.71" font-size="11.7" fill="#4d4d4d" textLength="13.83" lengthAdjust="spacingAndGlyphs">LU</text>
<text x="102.93" y="861.01" font-size="10" fill="#a8a8a8" textLength="17.42" lengthAdjust="spacingAndGlyphs">0.61</text>
<rect x="42.45" y="868.04" width="92.20" height="16.60" fill="#edbb87"/>
<text x="18.07" y="880.44" font-size="11.7" fill="#4d4d4d" textLength="15.03" lengthAdjust="spacingAndGlyphs">ZG</text>
<text x="138.65" y="879.75" font-size="10" fill="#a8a8a8" textLength="17.42" lengthAdjust="spacingAndGlyphs">1.00</text>
<rect x="42.45" y="886.78" width="33.58" height="16.60" fill="#f9eade"/>
<text x="18.07" y="899.18" font-size="11.7" fill="#4d4d4d" textLength="15.03" lengthAdjust="spacingAndGlyphs">TG</text>
<text x="80.03" y="898.48" font-size="10" fill="#a8a8a8" textLength="17.42" lengthAdjust="spacingAndGlyphs">0.36</text>
<rect x="42.45" y="905.51" width="69.30" height="16.60" fill="#edbb87"/>
<text x="19.27" y="917.91" font-size="11.7" fill="#4d4d4d" textLength="13.83" lengthAdjust="spacingAndGlyphs">SZ</text>
<text x="33.60" y="916.31" font-size="11.5" fill="#909090" textLength="4.48" lengthAdjust="spacingAndGlyphs">*</text>
<text x="115.75" y="917.22" font-size="10" fill="#a8a8a8" textLength="17.42" lengthAdjust="spacingAndGlyphs">0.75</text>
<rect x="42.85" y="924.35" width="144.73" height="15.90" fill="#c8531d"/>
<rect x="42.85" y="938.85" width="144.73" height="1.40" fill="#d03c0a"/>
<rect x="186.18" y="924.35" width="1.40" height="15.90" fill="#d03c0a"/>
<rect x="42.85" y="924.35" width="144.73" height="1.00" fill="#d0500f"/>
<rect x="42.85" y="924.35" width="1.00" height="15.90" fill="#d0500f"/>
<text x="15.07" y="936.65" font-size="11.7" fill="#4d4d4d" textLength="18.03" lengthAdjust="spacingAndGlyphs">NW</text>
<text x="191.78" y="935.95" font-size="10" fill="#a8a8a8" textLength="17.42" lengthAdjust="spacingAndGlyphs">1.58</text>
<rect x="42.45" y="942.99" width="13.42" height="16.60" fill="#f9eade"/>
<text x="18.67" y="955.38" font-size="11.7" fill="#4d4d4d" textLength="14.43" lengthAdjust="spacingAndGlyphs">FR</text>
<text x="59.87" y="954.68" font-size="10" fill="#a8a8a8" textLength="17.42" lengthAdjust="spacingAndGlyphs">0.14</text>
<rect x="42.45" y="961.72" width="18.92" height="16.60" fill="#f9eade"/>
<text x="17.46" y="974.12" font-size="11.7" fill="#4d4d4d" textLength="15.64" lengthAdjust="spacingAndGlyphs">SG</text>
<text x="65.37" y="973.42" font-size="10" fill="#a8a8a8" textLength="17.42" lengthAdjust="spacingAndGlyphs">0.20</text>
<rect x="42.45" y="980.46" width="19.84" height="16.60" fill="#f9eade"/>
<text x="18.07" y="992.86" font-size="11.7" fill="#4d4d4d" textLength="15.03" lengthAdjust="spacingAndGlyphs">NE</text>
<text x="66.29" y="992.15" font-size="10" fill="#a8a8a8" textLength="17.42" lengthAdjust="spacingAndGlyphs">0.21</text>
<rect x="42.85" y="999.29" width="131.90" height="15.90" fill="#e28b45"/>
<rect x="42.85" y="1013.79" width="131.90" height="1.40" fill="#e08018"/>
<rect x="173.35" y="999.29" width="1.40" height="15.90" fill="#e08018"/>
<rect x="42.85" y="999.29" width="131.90" height="1.00" fill="#e08018"/>
<rect x="42.85" y="999.29" width="1.00" height="15.90" fill="#e08018"/>
<text x="14.47" y="1011.59" font-size="11.7" fill="#4d4d4d" textLength="18.63" lengthAdjust="spacingAndGlyphs">OW</text>
<text x="178.95" y="1010.89" font-size="10" fill="#a8a8a8" textLength="17.42" lengthAdjust="spacingAndGlyphs">1.44</text>
<rect x="42.45" y="1017.92" width="19.84" height="16.60" fill="#f9eade"/>
<text x="19.87" y="1030.32" font-size="11.7" fill="#4d4d4d" textLength="13.23" lengthAdjust="spacingAndGlyphs">JU</text>
<text x="66.29" y="1029.62" font-size="10" fill="#a8a8a8" textLength="17.42" lengthAdjust="spacingAndGlyphs">0.21</text>
<rect x="42.85" y="1036.76" width="96.18" height="15.90" fill="#e28b45"/>
<rect x="42.85" y="1051.26" width="96.18" height="1.40" fill="#e08018"/>
<rect x="137.63" y="1036.76" width="1.40" height="15.90" fill="#e08018"/>
<rect x="42.85" y="1036.76" width="96.18" height="1.00" fill="#e08018"/>
<rect x="42.85" y="1036.76" width="1.00" height="15.90" fill="#e08018"/>
<text x="22.87" y="1049.06" font-size="11.7" fill="#4d4d4d" textLength="10.23" lengthAdjust="spacingAndGlyphs">AI</text>
<text x="143.23" y="1048.36" font-size="10" fill="#a8a8a8" textLength="17.42" lengthAdjust="spacingAndGlyphs">1.05</text>
<rect x="42.45" y="1055.39" width="27.16" height="16.60" fill="#f9eade"/>
<text x="18.07" y="1067.80" font-size="11.7" fill="#4d4d4d" textLength="15.03" lengthAdjust="spacingAndGlyphs">AR</text>
<text x="73.61" y="1067.10" font-size="10" fill="#a8a8a8" textLength="17.42" lengthAdjust="spacingAndGlyphs">0.29</text>
<rect x="42.45" y="1074.13" width="6.10" height="16.60" fill="#f9eade"/>
<text x="18.66" y="1086.53" font-size="11.7" fill="#4d4d4d" textLength="14.44" lengthAdjust="spacingAndGlyphs">BS</text>
<text x="33.60" y="1084.93" font-size="11.5" fill="#909090" textLength="4.48" lengthAdjust="spacingAndGlyphs">*</text>
<text x="52.55" y="1085.83" font-size="10" fill="#a8a8a8" textLength="17.42" lengthAdjust="spacingAndGlyphs">0.06</text>
<rect x="42.45" y="1092.87" width="3.35" height="16.60" fill="#f9eade"/>
<text x="17.46" y="1105.26" font-size="11.7" fill="#4d4d4d" textLength="15.64" lengthAdjust="spacingAndGlyphs">AG</text>
<text x="49.80" y="1104.57" font-size="10" fill="#a8a8a8" textLength="17.42" lengthAdjust="spacingAndGlyphs">0.03</text>
<rect x="42.45" y="1111.60" width="3.35" height="16.60" fill="#f9eade"/>
<text x="19.86" y="1124.00" font-size="11.7" fill="#4d4d4d" textLength="13.24" lengthAdjust="spacingAndGlyphs">BL</text>
<text x="49.80" y="1123.30" font-size="10" fill="#a8a8a8" textLength="17.42" lengthAdjust="spacingAndGlyphs">0.03</text>
<rect x="42.45" y="1130.34" width="33.58" height="16.60" fill="#f9eade"/>
<text x="17.47" y="1142.73" font-size="11.7" fill="#4d4d4d" textLength="15.63" lengthAdjust="spacingAndGlyphs">UR</text>
<text x="80.03" y="1142.04" font-size="10" fill="#a8a8a8" textLength="17.42" lengthAdjust="spacingAndGlyphs">0.36</text>
<text x="17.50" y="1161.80" font-size="11.7" fill="#4d4d4d" textLength="70.50" lengthAdjust="spacingAndGlyphs">ZH, SO, SH, GL</text>
<rect x="593.30" y="732.50" width="36.00" height="16.70" fill="#f9eade"/>
<text y="745.40" font-size="10" fill="#555"><tspan x="635.1" textLength="28.90" lengthAdjust="spacingAndGlyphs">0 - 0.5</tspan> <tspan x="666.80" font-size="12.5" textLength="10.00" lengthAdjust="spacingAndGlyphs">%</tspan></text>
<rect x="593.30" y="753.83" width="36.00" height="16.70" fill="#edbb87"/>
<text y="765.60" font-size="10" fill="#555"><tspan x="635.1" textLength="26.00" lengthAdjust="spacingAndGlyphs">0.5 - 1</tspan> <tspan x="664.30" font-size="12.5" textLength="9.70" lengthAdjust="spacingAndGlyphs">%</tspan></text>
<rect x="593.30" y="775.16" width="36.00" height="16.70" fill="#e28b45"/>
<rect x="593.30" y="790.46" width="36.00" height="1.40" fill="#e08018"/>
<rect x="627.90" y="775.16" width="1.40" height="16.70" fill="#e08018"/>
<rect x="593.30" y="775.16" width="36.00" height="1.00" fill="#e08018"/>
<rect x="593.30" y="775.16" width="1.00" height="16.70" fill="#e08018"/>
<text y="785.60" font-size="10" fill="#555"><tspan x="635.1" textLength="24.40" lengthAdjust="spacingAndGlyphs">1 - 1.5</tspan> <tspan x="661.90" font-size="12.5" textLength="10.20" lengthAdjust="spacingAndGlyphs">%</tspan></text>
<rect x="593.30" y="796.49" width="36.00" height="16.70" fill="#c8531d"/>
<rect x="593.30" y="811.79" width="36.00" height="1.40" fill="#d03c0a"/>
<rect x="627.90" y="796.49" width="1.40" height="16.70" fill="#d03c0a"/>
<rect x="593.30" y="796.49" width="36.00" height="1.00" fill="#d0500f"/>
<rect x="593.30" y="796.49" width="1.00" height="16.70" fill="#d0500f"/>
<text y="808.20" font-size="10" fill="#555"><tspan x="635.1" textLength="24.70" lengthAdjust="spacingAndGlyphs">1.5 - 2</tspan> <tspan x="663.50" font-size="12.5" textLength="9.90" lengthAdjust="spacingAndGlyphs">%</tspan></text>
<rect x="593.30" y="817.82" width="36.00" height="16.70" fill="#8e380e"/>
<rect x="593.30" y="833.12" width="36.00" height="1.40" fill="#8c1c02"/>
<rect x="627.90" y="817.82" width="1.40" height="16.70" fill="#8c1c02"/>
<rect x="593.30" y="817.82" width="36.00" height="1.00" fill="#800404"/>
<rect x="593.30" y="817.82" width="1.00" height="16.70" fill="#800404"/>
<text y="830.40" font-size="10" fill="#555"><tspan x="635.1" textLength="25.90" lengthAdjust="spacingAndGlyphs">2.5 - 3</tspan> <tspan x="664.30" font-size="12.5" textLength="9.70" lengthAdjust="spacingAndGlyphs">%</tspan></text>
</g>
<g id="map">
<path d="M243.0,982.0 L245.0,979.0 L250.0,975.6 L256.0,974.4 L263.0,973.0 L268.0,969.0 L274.0,964.0 L275.0,959.0 L280.0,956.0 L286.0,952.0 L292.0,948.0 L291.6,946.0 L296.0,942.0 L302.0,937.0 L303.0,930.0 L309.0,927.0 L315.6,924.0 L316.4,920.0 L314.0,917.0 L308.0,917.6 L302.0,919.0 L296.0,919.0 L296.4,916.0 L300.0,912.0 L303.0,908.0 L308.0,904.0 L308.0,904.0 L308.4,899.0 L311.0,897.0 L317.0,898.0 L324.0,897.0 L331.0,898.4 L332.4,900.0 L330.4,905.0 L334.0,907.0 L339.0,908.0 L340.0,907.7 L344.1,906.8 L348.1,906.4 L351.5,907.7 L354.2,907.7 L358.9,898.9 L363.0,896.9 L367.7,892.8 L369.1,890.1 L373.1,888.8 L375.8,886.1 L379.2,884.7 L381.9,885.7 L385.3,884.1 L388.6,883.0 L390.0,882.4 L388.9,885.4 L385.9,887.4 L383.9,888.8 L386.6,891.5 L390.7,892.8 L394.1,891.9 L398.1,890.8 L402.2,888.8 L404.9,885.4 L408.9,884.7 L413.6,885.1 L415.0,888.1 L417.0,890.1 L421.1,889.7 L426.5,888.8 L431.9,889.2 L435.9,887.4 L440.0,885.4 L441.0,884.0 L448.0,882.0 L451.0,879.6 L455.0,881.6 L460.0,882.0 L463.0,885.0 L469.0,887.0 L474.4,886.4 L472.0,892.0 L469.0,897.0 L471.0,902.0 L472.0,907.0 L470.0,911.0 L472.4,916.0 L476.0,920.0 L479.0,922.0 L475.0,926.0 L473.0,929.0 L474.0,935.0 L480.0,944.0 L520.0,944.0 L520.0,933.6 L525.4,933.4 L530.8,932.4 L536.0,930.8 L537.2,927.4 L541.2,924.0 L540.0,919.0 L537.0,914.0 L534.4,909.0 L533.0,904.0 L531.0,898.0 L529.0,892.4 L524.0,889.0 L523.0,885.0 L518.0,883.0 L513.0,880.0 L514.4,877.0 L520.0,876.0 L523.0,873.0 L520.0,870.0 L514.0,868.0 L508.0,867.6 L505.0,869.0 L506.0,872.0 L511.0,874.4 L516.0,874.4 L520.0,872.0 L524.0,873.0 L529.0,874.4 L530.0,874.0 L538.0,871.0 L550.0,870.4 L558.0,871.4 L566.0,872.0 L572.0,874.4 L578.0,878.0 L583.0,882.0 L587.0,886.0 L590.0,891.0 L595.0,895.0 L600.0,898.0 L605.0,898.4 L610.0,897.0 L612.0,900.0 L618.0,901.0 L619.6,905.0 L619.0,908.0 L622.0,911.0 L620.0,914.0 L616.0,916.0 L613.0,920.0 L610.0,924.0 L607.0,929.0 L605.0,934.0 L603.0,940.0 L601.0,945.0 L602.0,950.0 L604.0,948.0 L605.0,954.0 L604.0,958.0 L601.0,961.0 L606.0,975.0 L590.0,995.0 L560.0,1000.0 L530.0,1015.0 L515.0,1030.0 L500.0,1040.0 L480.0,1047.0 L474.0,1050.0 L460.0,1058.0 L430.0,1068.0 L380.0,1078.0 L330.0,1078.0 L300.0,1062.0 L280.0,1042.0 L262.0,1022.0 L250.0,1003.0 Z" fill="#f9eade" stroke="#d9c5b3" stroke-width="0.6" stroke-linejoin="round"/>
<path d="M361.6,913.1 L365.7,912.4 L370.4,911.8 L375.8,909.1 L377.8,907.0 L380.5,905.0 L381.2,900.9 L384.6,899.6 L387.3,898.9 L391.4,900.9 L392.0,903.0 L390.0,905.7 L387.3,907.7 L385.9,910.4 L383.9,912.4 L384.6,915.8 L386.6,917.2 L390.7,916.5 L394.1,917.8 L397.4,919.9 L400.8,921.2 L403.5,919.2 L406.2,917.2 L410.3,915.4 L412.3,913.1 L415.7,911.8 L419.7,910.4 L423.8,909.7 L427.2,911.1 L429.5,914.5 L428.5,918.5 L426.5,921.2 L423.1,923.2 L421.1,924.3 L418.4,923.0 L415.7,922.2 L413.6,924.6 L410.3,928.0 L408.2,931.4 L406.2,932.7 L402.8,932.0 L399.5,932.7 L396.8,931.1 L393.4,930.3 L389.3,928.9 L385.9,929.7 L381.9,930.3 L378.5,931.1 L379.9,934.1 L382.2,936.8 L384.6,939.5 L386.6,942.2 L388.6,945.9 L385.3,948.2 L381.9,949.2 L378.5,948.9 L375.8,947.6 L372.4,946.9 L370.4,948.9 L369.1,951.6 L367.0,953.6 L364.3,955.7 L365.0,958.4 L363.0,960.0 L360.3,959.1 L357.6,957.0 L354.2,956.8 L352.8,954.3 L354.9,953.0 L358.9,953.6 L361.6,950.9 L365.0,948.9 L367.0,946.9 L365.0,944.6 L361.6,946.2 L356.9,947.3 L354.2,945.5 L352.8,942.8 L350.1,941.5 L350.8,939.5 L354.9,938.1 L358.9,936.5 L363.0,934.7 L367.0,933.4 L370.4,931.4 L373.8,928.6 L375.8,925.9 L376.5,923.0 L374.5,920.5 L371.8,918.1 L368.4,916.5 L365.0,916.8 L361.6,915.4 Z" fill="#ffffff" stroke="#d9c5b3" stroke-width="0.6" stroke-linejoin="round"/>
<path d="M354.2,907.7 L356.9,906.4 L360.9,905.9 L362.3,907.7 L361.6,910.0 L357.6,910.8 L354.6,910.0 Z" fill="#ffffff" stroke="#d9c5b3" stroke-width="0.6" stroke-linejoin="round"/>
<path d="M358.9,898.9 L361.6,897.8 L363.6,900.3 L367.0,898.9 L371.1,898.2 L372.2,900.9 L369.7,903.0 L366.4,904.1 L363.6,904.6 L360.9,903.2 L359.6,901.4 Z" fill="#ffffff" stroke="#d9c5b3" stroke-width="0.6" stroke-linejoin="round"/>
<path d="M367.7,892.8 L371.1,892.8 L371.4,895.5 L368.4,895.9 Z" fill="#ffffff" stroke="#d9c5b3" stroke-width="0.6" stroke-linejoin="round"/>
<path d="M421.1,904.1 L423.8,903.6 L424.9,907.0 L422.4,908.6 L420.8,907.0 Z" fill="#ffffff" stroke="#d9c5b3" stroke-width="0.6" stroke-linejoin="round"/>
<path d="M543.0,945.0 L548.0,948.0 L553.0,950.4 L560.0,951.6 L566.0,953.0 L567.0,957.0 L565.6,961.0 L562.0,963.0 L567.0,965.0 L572.0,967.0 L573.6,972.4 L573.0,978.0 L574.4,983.6 L568.0,985.6 L564.0,989.0 L559.0,991.0 L555.0,990.0 L552.4,990.4 L549.6,995.0 L547.0,997.6 L540.0,999.6 L535.0,1000.0 L532.0,999.0 L534.0,995.0 L538.0,990.0 L540.0,985.0 L539.0,980.0 L541.0,977.0 L537.0,972.0 L534.0,968.0 L536.0,964.0 L539.6,960.0 L541.0,955.0 L540.0,950.0 Z" fill="#ffffff" stroke="#d9c5b3" stroke-width="0.6" stroke-linejoin="round"/>
<path d="M408.0,937.0 L414.0,936.0 L420.0,935.0 L423.0,931.0 L427.0,931.0 L429.0,935.0 L435.0,933.6 L442.0,934.4 L448.0,934.0 L452.0,935.0 L455.0,931.0 L459.0,930.0 L463.0,935.0 L466.0,941.0 L469.0,947.0 L473.0,950.0 L474.0,942.0 L475.0,937.0 L480.0,939.0 L486.0,940.0 L493.0,938.4 L500.0,940.0 L504.0,943.6 L507.0,946.0 L509.0,942.0 L514.0,941.0 L522.0,939.6 L530.0,939.0 L538.0,938.4 L540.0,940.0 L543.6,945.0 L541.6,950.0 L541.0,955.0 L539.0,960.0 L536.0,964.0 L533.0,967.0 L537.0,972.0 L541.0,977.0 L539.0,981.0 L533.0,984.0 L528.0,986.4 L526.0,982.4 L524.0,979.0 L518.0,980.0 L512.0,982.0 L509.0,979.0 L504.0,978.0 L499.0,976.4 L497.0,973.0 L493.0,975.0 L488.0,978.0 L484.0,982.0 L480.0,1000.0 L460.0,1007.0 L444.0,1007.0 L440.0,1004.0 L434.0,1002.4 L430.0,1004.0 L425.0,1002.0 L419.0,999.0 L413.0,995.0 L411.0,990.0 L412.0,984.0 L415.0,982.0 L419.0,977.0 L420.0,972.0 L416.0,968.0 L413.0,962.0 L411.6,955.0 L412.4,948.0 L410.0,942.0 Z" fill="#edbb87"/>
<path d="M433.0,996.0 L435.0,990.0 L439.0,986.0 L445.0,981.0 L446.4,977.0 L453.0,975.6 L460.0,975.0 L464.0,978.0 L467.0,982.0 L466.4,988.0 L466.0,994.0 L465.6,999.0 L469.0,1002.0 L466.0,1005.0 L460.0,1007.0 L454.0,1006.0 L449.0,1006.4 L444.0,1007.0 L440.0,1004.0 L434.0,1002.4 Z" fill="#e28b45"/>
<path d="M462.0,979.0 L467.0,975.0 L470.0,972.0 L476.0,971.6 L477.0,975.0 L482.0,977.0 L488.0,976.0 L492.4,975.6 L492.0,979.6 L488.0,982.0 L484.0,983.6 L482.0,987.0 L482.4,992.0 L486.0,993.0 L486.4,997.0 L485.0,1000.0 L485.6,1004.0 L481.0,1005.0 L476.0,1004.4 L472.0,1002.4 L469.0,1002.0 L466.0,999.0 L466.4,992.0 L467.0,984.0 L464.0,980.0 Z" fill="#c8531d"/>
<path d="M453.0,973.0 L458.0,971.6 L463.0,972.4 L462.4,975.2 L454.0,975.2 Z" fill="#c8531d"/>
<path d="M471.0,994.0 L474.4,991.0 L480.0,992.4 L486.0,993.6 L486.0,998.0 L485.0,1004.0 L480.0,1005.0 L475.6,1003.6 L472.4,1000.0 L471.0,997.0 Z" fill="#e28b45"/>
<path d="M243.6,995.0 L249.0,992.4 L260.0,989.0 L269.0,985.0 L276.4,982.0 L278.0,988.0 L280.0,991.0 L274.0,997.0 L268.0,1001.6 L274.0,1002.4 L282.0,1000.8 L286.0,1003.0 L292.0,1005.0 L297.0,1004.4 L298.4,1001.0 L298.0,996.0 L301.0,994.0 L299.6,988.0 L302.0,987.6 L303.6,992.4 L307.6,995.0 L306.4,999.0 L303.0,1000.0 L302.4,1005.0 L300.0,1007.0 L301.6,1010.0 L298.0,1015.0 L292.0,1020.0 L292.0,1023.0 L286.0,1025.0 L285.6,1034.0 L292.0,1033.6 L296.0,1036.0 L293.0,1039.0 L288.0,1042.0 L291.0,1045.0 L300.0,1049.0 L305.0,1049.0 L308.0,1055.0 L310.0,1053.0 L316.0,1050.0 L324.0,1046.0 L330.0,1042.0 L336.0,1039.5 L338.0,1044.0 L336.4,1050.0 L333.0,1054.0 L332.4,1060.0 L334.4,1066.0 L335.0,1072.0 L331.0,1077.0 L326.0,1082.0 L322.0,1087.0 L318.0,1090.0 L313.6,1091.6 L310.0,1088.0 L307.0,1082.0 L304.0,1077.0 L301.0,1072.0 L298.0,1068.0 L294.0,1065.0 L290.0,1063.0 L280.0,1056.0 L262.0,1053.0 L245.0,1056.0 L232.0,1060.0 L222.0,1066.0 L219.2,1075.9 L220.5,1078.6 L223.2,1081.4 L225.9,1082.0 L225.3,1084.1 L221.9,1086.5 L217.8,1088.4 L214.5,1091.1 L211.1,1093.5 L207.0,1096.2 L202.3,1097.6 L196.9,1096.5 L193.5,1097.3 L189.5,1097.6 L184.7,1099.2 L186.5,1096.2 L188.4,1092.2 L185.7,1088.8 L189.5,1086.5 L193.5,1084.7 L197.6,1083.0 L202.3,1083.4 L205.9,1082.0 L204.3,1080.0 L203.0,1077.0 L205.0,1073.9 L207.0,1070.5 L209.1,1067.8 L211.4,1065.4 L210.4,1063.8 L206.4,1060.8 L202.3,1058.4 L198.2,1056.4 L200.5,1053.0 L199.2,1050.9 L201.6,1046.9 L204.3,1042.8 L207.7,1040.1 L208.4,1036.1 L204.3,1032.0 L204.4,1033.6 L210.0,1029.0 L216.0,1025.0 L223.0,1018.0 L230.0,1015.0 L238.0,1010.0 L240.0,1008.0 L246.0,1003.0 L244.4,1000.0 Z" fill="#c8531d"/>
<path d="M308.0,984.0 L312.0,980.0 L315.6,976.0 L316.4,980.0 L315.0,984.0 L318.0,986.0 L319.6,988.0 L317.0,991.0 L314.4,993.6 L312.4,990.0 L309.0,988.0 L307.6,985.0 Z" fill="#c8531d"/>
<path d="M280.0,1010.0 L283.0,1008.0 L284.0,1011.0 L281.6,1013.0 L279.6,1012.4 Z" fill="#f9eade"/>
<path d="M287.0,1009.0 L291.0,1006.4 L295.0,1007.6 L294.4,1011.0 L290.0,1012.4 L287.0,1011.0 Z" fill="#f9eade"/>
<path d="M283.0,1065.6 L290.0,1063.0 L294.0,1065.0 L298.0,1068.0 L301.0,1072.0 L304.0,1077.0 L307.0,1082.0 L310.0,1088.0 L313.6,1091.6 L318.0,1090.0 L322.0,1087.0 L326.0,1082.0 L331.0,1077.0 L335.0,1072.0 L340.0,1068.0 L345.0,1066.0 L347.0,1068.0 L354.0,1066.0 L361.0,1064.0 L368.0,1065.0 L373.0,1062.0 L375.0,1060.0 L381.0,1057.0 L383.0,1055.6 L388.0,1057.0 L394.0,1058.0 L400.0,1054.4 L407.0,1051.0 L414.0,1049.0 L421.0,1045.0 L425.0,1040.0 L430.0,1037.6 L437.0,1038.4 L444.0,1040.0 L450.0,1042.0 L456.0,1041.0 L462.0,1039.0 L468.0,1036.0 L472.0,1032.0 L472.4,1027.0 L475.0,1023.0 L477.0,1026.0 L476.4,1032.0 L479.0,1037.0 L482.0,1042.0 L480.0,1046.0 L476.0,1048.0 L476.0,1052.0 L471.0,1055.0 L466.0,1059.0 L464.0,1062.0 L460.0,1064.0 L458.0,1068.0 L454.0,1070.0 L451.0,1073.0 L446.0,1075.0 L441.0,1079.0 L437.6,1082.0 L442.0,1086.0 L445.0,1090.0 L446.0,1094.0 L444.0,1100.0 L441.0,1103.0 L438.0,1103.5 L433.0,1104.0 L431.0,1109.0 L430.0,1115.0 L424.0,1119.0 L418.0,1121.0 L413.6,1125.0 L412.0,1130.0 L406.0,1130.4 L402.0,1129.0 L397.0,1128.0 L394.0,1129.0 L390.0,1125.0 L385.0,1123.6 L378.0,1123.0 L374.0,1122.0 L369.0,1126.4 L364.0,1128.0 L359.0,1131.0 L354.0,1133.6 L347.0,1132.4 L342.4,1131.0 L338.0,1134.0 L333.0,1136.0 L331.0,1139.0 L327.0,1137.0 L323.0,1138.0 L320.0,1139.0 L316.0,1134.0 L314.0,1129.0 L311.0,1126.0 L310.0,1122.0 L306.0,1116.0 L302.0,1110.0 L298.0,1111.0 L294.4,1110.0 L297.6,1106.0 L297.0,1101.0 L290.0,1100.0 L287.0,1100.0 L285.0,1096.0 L287.0,1090.0 L289.0,1084.0 L292.0,1082.0 L292.0,1078.0 L289.0,1075.0 L285.0,1069.0 Z" fill="#8e380e" stroke="#8a1e10" stroke-width="0.7" stroke-linejoin="round"/>
<path d="M476.0,1048.0 L482.0,1042.0 L488.0,1039.0 L490.0,1034.0 L496.0,1033.6 L502.0,1035.0 L508.0,1033.6 L511.0,1032.4 L518.0,1034.0 L526.0,1033.6 L532.0,1031.0 L535.0,1028.0 L538.0,1026.4 L540.0,1029.0 L545.0,1028.0 L549.6,1031.0 L549.0,1038.0 L551.0,1043.0 L556.0,1048.0 L557.6,1055.0 L556.0,1062.0 L557.0,1068.0 L554.0,1074.0 L556.0,1080.0 L560.0,1086.0 L564.0,1089.6 L567.0,1092.0 L564.0,1094.0 L561.0,1098.0 L557.0,1102.0 L557.6,1107.0 L555.0,1109.0 L551.0,1112.0 L550.0,1116.0 L547.0,1121.0 L549.6,1125.0 L551.0,1129.0 L555.6,1131.0 L558.0,1134.4 L554.0,1139.0 L552.4,1144.0 L549.0,1145.0 L547.0,1142.4 L543.0,1141.0 L538.4,1142.4 L540.4,1139.0 L539.6,1135.0 L537.0,1132.0 L536.0,1128.0 L533.0,1124.0 L528.0,1121.0 L523.0,1120.0 L525.0,1117.0 L528.0,1113.6 L530.0,1110.0 L527.0,1106.0 L522.0,1103.0 L516.0,1102.4 L511.0,1103.0 L506.0,1102.0 L501.0,1099.0 L498.0,1095.0 L494.0,1091.0 L491.0,1086.0 L485.0,1084.0 L481.0,1080.0 L479.6,1075.0 L483.6,1070.0 L483.0,1066.0 L484.0,1060.0 L483.6,1060.0 L483.0,1054.0 L480.0,1050.4 L476.0,1050.0 Z" fill="#c8531d" stroke="#c23c12" stroke-width="0.5" stroke-linejoin="round"/>
<path d="M505.6,1024.0 L507.6,1018.0 L512.0,1016.0 L516.0,1012.4 L517.0,1009.6 L521.0,1011.0 L524.0,1008.0 L525.0,1004.0 L528.0,1001.0 L532.0,999.0 L535.0,1000.4 L540.0,999.6 L547.0,997.6 L549.6,995.0 L551.0,991.0 L554.0,989.6 L557.0,991.6 L560.0,990.4 L564.0,989.0 L568.0,985.6 L574.4,984.0 L580.0,984.4 L586.0,985.0 L594.0,986.0 L599.0,988.0 L600.0,985.0 L602.0,980.0 L605.0,976.0 L609.0,973.0 L606.0,970.0 L603.0,965.0 L601.6,961.4 L608.0,960.0 L616.0,961.0 L622.0,960.0 L630.0,963.0 L638.0,964.4 L647.0,965.6 L648.0,970.0 L646.0,974.0 L649.0,978.0 L656.0,981.0 L662.0,982.4 L668.0,986.0 L672.0,989.0 L676.0,991.0 L683.0,989.0 L690.0,987.0 L691.0,979.0 L696.0,978.0 L700.0,977.0 L701.0,972.0 L704.0,968.0 L708.0,966.4 L712.0,970.0 L719.0,975.0 L718.0,982.0 L716.4,988.0 L714.4,994.0 L713.0,998.0 L715.0,1002.0 L711.6,1007.0 L712.0,1011.0 L709.6,1015.0 L711.6,1020.0 L718.0,1020.0 L721.6,1023.0 L721.0,1029.0 L719.0,1034.0 L713.0,1032.4 L706.0,1032.4 L700.0,1033.0 L696.0,1029.0 L694.0,1026.0 L694.4,1021.0 L688.0,1021.6 L681.0,1023.6 L676.0,1025.0 L674.4,1031.0 L670.0,1036.0 L669.0,1042.0 L670.4,1050.0 L674.0,1052.4 L680.0,1052.0 L683.6,1053.6 L684.0,1057.0 L680.0,1059.0 L678.4,1064.4 L681.0,1069.0 L684.4,1072.4 L686.4,1077.0 L684.0,1079.6 L679.0,1081.0 L674.0,1082.4 L673.0,1078.0 L671.0,1074.4 L666.0,1072.4 L664.0,1068.0 L665.0,1063.6 L661.0,1060.0 L656.0,1059.0 L650.0,1061.0 L644.0,1063.0 L639.0,1065.6 L635.0,1064.0 L633.0,1068.0 L631.6,1072.4 L627.0,1072.0 L621.0,1073.6 L614.0,1072.0 L610.0,1069.0 L607.0,1064.0 L603.0,1061.0 L601.0,1055.0 L602.0,1048.0 L601.0,1042.4 L598.0,1043.0 L595.0,1047.0 L592.0,1046.0 L592.0,1044.0 L588.0,1041.6 L582.0,1042.4 L578.0,1045.0 L575.0,1050.0 L576.0,1054.0 L579.6,1057.0 L579.0,1062.0 L581.0,1067.0 L580.0,1072.0 L577.0,1076.0 L575.6,1081.0 L572.0,1084.0 L570.0,1089.0 L567.0,1092.0 L564.0,1089.6 L560.0,1086.0 L556.0,1080.0 L554.0,1074.0 L557.0,1068.0 L556.0,1062.0 L557.6,1055.0 L556.0,1048.0 L551.0,1043.0 L549.0,1038.0 L549.6,1031.0 L545.0,1028.0 L540.0,1029.0 L538.0,1026.4 L535.0,1028.0 L532.0,1031.0 L526.0,1033.6 L518.0,1034.0 L511.0,1032.4 L508.0,1027.0 Z" fill="#8e380e" stroke="#8a1e10" stroke-width="0.7" stroke-linejoin="round"/>
<path d="M473.0,868.0 L474.0,865.0 L478.0,862.0 L480.0,858.0 L485.0,855.0 L490.0,854.4 L492.0,851.6 L497.0,852.4 L500.0,855.0 L502.0,852.4 L506.0,854.4 L509.0,858.0 L512.0,859.0 L510.0,862.0 L508.0,865.0 L514.0,865.6 L516.0,862.4 L519.0,861.6 L522.0,864.0 L525.0,865.0 L528.0,867.0 L527.0,871.0 L524.0,873.0" fill="none" stroke="#b9b4ae" stroke-width="0.8" stroke-linejoin="round"/>
<path d="M473.0,868.0 L475.0,872.0 L480.0,873.6 L484.0,875.6 L488.0,873.0 L492.0,872.0 L497.0,870.0 L501.0,868.0 L505.0,869.0" fill="none" stroke="#b9b4ae" stroke-width="0.8" stroke-linejoin="round"/>
<path d="M474.4,886.4 L480.0,885.6 L483.0,883.0 L480.0,880.0 L484.0,878.0 L489.0,877.0 L490.0,881.0 L489.0,885.0 L491.0,888.0 L494.0,883.0 L497.0,878.0 L496.0,874.0 L500.0,871.0" fill="none" stroke="#c4bcb4" stroke-width="0.7" stroke-linejoin="round"/>
<path d="M332.0,986.0 L338.0,986.0 L345.0,988.0 L351.0,989.0 L351.6,993.0 L347.0,994.0 L348.0,999.0 L344.4,1005.0 L346.0,1012.0 L351.6,1016.0 L353.6,1021.0 L348.0,1025.0 L347.0,1030.0 L342.0,1033.6 L338.0,1038.0" fill="none" stroke="#d9c5b3" stroke-width="0.6" stroke-linejoin="round"/>
<path d="M314.0,972.0 L320.0,973.6 L328.0,974.4 L334.0,971.0 L337.0,974.0 L334.0,979.0 L335.0,984.0 L333.0,986.4 L338.0,987.6 L344.0,989.0 L350.0,990.0 L351.6,994.0 L347.0,996.0 L346.0,1001.0 L344.0,1006.0 L345.6,1012.0 L350.0,1016.0 L353.0,1020.0" fill="none" stroke="#d9c5b3" stroke-width="0.6" stroke-linejoin="round"/>
<path d="M292.0,948.0 L295.0,951.0 L294.0,958.0 L299.0,957.0 L306.0,955.0 L312.0,953.6 L315.6,957.0 L319.0,960.0 L318.0,964.0" fill="none" stroke="#d9c5b3" stroke-width="0.6" stroke-linejoin="round"/>
<path d="M303.0,937.0 L309.0,936.0 L316.0,937.0 L322.0,935.0 L328.0,934.4 L329.0,930.0 L334.0,928.0 L342.0,929.0 L350.0,927.6 L358.0,926.0 L368.0,925.6" fill="none" stroke="#d9c5b3" stroke-width="0.6" stroke-linejoin="round"/>
<path d="M538.4,914.4 L540.0,910.0 L544.0,907.0 L549.0,904.0 L545.0,903.0 L543.0,899.0 L549.0,897.0 L556.0,898.0 L562.0,895.6 L569.0,898.0 L575.0,898.4 L575.0,894.0 L578.0,891.6 L582.4,891.6 L584.0,895.0 L588.0,898.0 L592.0,895.0 L594.0,893.6" fill="none" stroke="#d9c5b3" stroke-width="0.6" stroke-linejoin="round"/>
<path d="M618.0,903.0 L614.0,902.0 L610.0,900.0 L605.0,900.0 L600.0,902.4 L594.0,904.4 L592.0,907.0 L586.0,909.0 L578.0,910.0 L571.0,911.0 L566.0,916.0 L569.0,920.0 L567.0,924.0 L569.0,928.0 L576.0,930.0 L583.0,932.4 L589.0,934.0 L594.0,933.0 L599.0,930.0 L601.0,924.0 L601.6,917.0 L603.0,911.0 L608.0,909.0 L612.0,907.0 L615.0,904.0" fill="none" stroke="#d9c5b3" stroke-width="0.6" stroke-linejoin="round"/>
<path d="M394.1,891.9 L396.8,893.5 L400.8,894.2 L402.2,898.2 L404.9,894.9 L408.2,892.2 L410.9,894.2 L414.3,896.9 L417.7,899.6 L421.1,904.1" fill="none" stroke="#d9c5b3" stroke-width="0.6" stroke-linejoin="round"/>
<path d="M480.0,1006.0 L481.0,1012.0 L480.0,1018.0 L475.0,1020.0 L475.0,1023.0" fill="none" stroke="#d9c5b3" stroke-width="0.6" stroke-linejoin="round"/>
<path d="M207.0,1088.8 L206.4,1085.4 L207.7,1080.7 L209.7,1075.9 L212.4,1070.5 L215.1,1066.5 L218.5,1063.1 L221.9,1060.4 L224.6,1056.4 L228.6,1052.3 L232.7,1050.3 L236.8,1050.3 L240.8,1048.9 L244.9,1046.9 L248.2,1043.5 L251.6,1042.4 L255.7,1043.5 L259.7,1042.4 L263.8,1042.8 L267.8,1044.2 L273.2,1045.5 L277.3,1046.9 L280.0,1046.9 L276.0,1047.0 L284.0,1049.0 L291.0,1051.0 L297.0,1054.0 L300.0,1057.0 L300.4,1060.0 L298.0,1062.0 L294.0,1063.0 L288.0,1062.4 L282.0,1061.0 L276.0,1060.0 L270.0,1060.4 L264.0,1060.0 L258.0,1060.6 L275.9,1059.5 L270.5,1058.6 L265.1,1059.1 L259.7,1060.0 L255.7,1060.8 L251.6,1060.0 L248.2,1061.1 L246.2,1063.8 L242.2,1065.4 L238.1,1067.2 L235.4,1068.5 L232.0,1067.8 L230.0,1065.1 L226.6,1065.4 L223.2,1068.5 L220.5,1071.9 L219.2,1075.9 L216.5,1078.6 L214.5,1082.0 L212.4,1085.4 L209.7,1088.1 Z" fill="#cdcdcd"/>
<path d="M266.0,1002.0 L269.0,999.0 L275.0,994.0 L280.0,990.0 L286.0,985.0 L291.0,980.0 L296.0,975.6 L302.0,972.4 L308.0,970.0 L313.0,970.4 L315.6,973.6 L314.0,977.0 L310.0,980.0 L306.0,983.6 L301.0,987.0 L296.0,990.0 L291.0,993.0 L286.0,996.0 L281.0,999.0 L276.0,1001.6 L270.0,1003.6 L266.4,1003.0 Z" fill="#cdcdcd"/>
<path d="M318.0,964.0 L321.0,961.0 L326.0,958.0 L331.0,954.4 L335.0,951.6 L337.6,952.4 L336.0,956.0 L332.0,960.0 L327.0,963.6 L322.0,966.0 L319.0,966.4 Z" fill="#cdcdcd"/>
<path d="M313.0,985.0 L316.0,982.0 L320.0,979.0 L324.0,978.0 L325.0,980.4 L322.0,984.0 L318.0,986.4 L314.4,987.0 Z" fill="#cdcdcd"/>
<path d="M320.0,1014.4 L322.4,1013.6 L323.2,1017.0 L322.4,1020.0 L320.4,1019.6 Z" fill="#cdcdcd"/>
<path d="M218.4,1027.6 L221.0,1024.4 L225.0,1021.6 L229.0,1020.0 L230.4,1021.6 L228.0,1024.4 L224.0,1027.0 L220.0,1029.2 Z" fill="#cdcdcd"/>
<path d="M383.0,1010.0 L386.0,1009.6 L390.0,1014.0 L395.0,1017.0 L400.0,1018.4 L405.0,1019.0 L407.6,1021.0 L405.0,1022.6 L399.0,1023.0 L394.0,1021.0 L389.0,1018.0 L385.0,1014.0 Z" fill="#cdcdcd"/>
<path d="M414.0,1016.0 L419.0,1013.0 L424.0,1010.0 L429.0,1008.0 L433.0,1008.4 L432.0,1011.0 L427.0,1013.0 L422.0,1015.6 L417.0,1018.0 L414.0,1017.6 Z" fill="#cdcdcd"/>
<path d="M464.0,963.6 L469.0,962.0 L474.0,959.6 L478.0,959.0 L477.0,963.0 L474.0,966.0 L477.0,967.6 L482.0,968.0 L487.0,970.0 L488.0,972.4 L492.0,973.0 L497.0,971.6 L498.4,974.0 L498.0,978.0 L499.6,982.0 L500.4,986.0 L498.0,987.0 L496.4,983.0 L495.6,978.0 L494.0,975.6 L490.0,976.4 L484.0,976.0 L479.0,975.0 L477.0,972.4 L473.0,971.6 L469.0,972.4 L467.0,976.0 L463.0,978.4 L460.0,978.0 L461.6,975.0 L465.0,972.4 L466.0,969.0 L463.6,967.0 L463.0,964.4 Z" fill="#cdcdcd"/>
<path d="M480.0,945.0 L484.0,944.0 L487.0,945.6 L486.4,950.0 L485.6,954.0 L488.0,958.0 L488.4,961.6 L486.0,962.0 L483.0,959.0 L481.0,955.0 L480.0,950.0 Z" fill="#cdcdcd"/>
<path d="M441.0,945.6 L443.0,945.0 L447.0,949.0 L449.6,952.0 L449.0,954.4 L446.0,953.6 L442.4,950.0 L440.6,947.6 Z" fill="#cdcdcd"/>
<path d="M455.0,939.0 L457.6,939.0 L459.6,943.0 L460.0,945.0 L458.0,945.0 L456.0,942.0 Z" fill="#cdcdcd"/>
<path d="M450.0,924.0 L452.4,924.0 L453.6,930.0 L454.0,935.0 L452.0,935.0 L450.4,930.0 Z" fill="#cdcdcd"/>
<path d="M496.0,950.4 L500.0,950.4 L503.0,954.0 L502.4,956.0 L499.0,955.0 L496.0,952.4 Z" fill="#cdcdcd"/>
<path d="M516.0,948.0 L519.0,947.6 L521.0,952.0 L523.0,956.0 L522.0,958.0 L519.0,955.6 L517.0,952.0 Z" fill="#cdcdcd"/>
<path d="M449.6,990.0 L452.4,988.4 L456.0,987.0 L456.4,989.6 L453.6,992.4 L450.4,994.4 L449.0,992.4 Z" fill="#cdcdcd"/>
<path d="M489.2,916.4 L491.6,918.6 L494.0,923.6 L498.0,928.6 L503.0,931.6 L509.0,934.0 L515.0,935.6 L522.0,936.4 L530.0,937.2 L538.0,936.8 L516.0,935.2 L522.0,936.8 L530.0,937.4 L538.0,936.8 L537.0,939.0 L530.0,941.2 L523.0,941.8 L516.0,940.4 L510.0,940.8 L532.0,941.4 L524.0,941.6 L516.0,941.6 L510.0,941.0 L504.0,938.4 L498.0,935.6 L493.0,931.0 L490.0,925.0 L488.4,919.0 Z" fill="#cdcdcd"/>
<path d="M502.4,915.6 L505.0,917.0 L507.6,920.0 L509.0,922.4 L506.4,923.0 L504.0,920.0 L502.0,917.0 Z" fill="#cdcdcd"/>
<path d="M555.0,949.6 L562.0,949.6 L570.0,950.0 L579.6,950.4 L579.0,952.4 L570.0,953.0 L562.0,952.4 L556.0,951.6 Z" fill="#cdcdcd"/>
<path d="M545.0,850.0 L547.8,848.8 L552.0,851.0 L556.0,853.8 L560.0,856.4 L567.0,859.0 L569.0,863.0 L573.0,867.0 L579.0,870.0 L584.0,871.0 L590.0,870.0 L596.0,871.6 L601.0,874.0 L604.0,879.0 L610.0,882.0 L616.0,884.0 L623.0,886.4 L628.0,889.0 L630.4,891.6 L628.0,894.0 L622.0,894.4 L616.0,896.0 L610.0,897.0 L605.0,898.4 L600.0,898.0 L595.0,895.0 L590.0,891.0 L587.0,886.0 L583.0,882.0 L578.0,878.0 L572.0,874.4 L566.0,872.0 L560.0,871.4 L554.6,870.6 L549.2,870.0 L543.8,870.4 L538.4,871.4 L533.0,872.6 L529.0,873.6 L529.0,872.6 L533.0,871.2 L537.0,870.0 L542.4,868.6 L539.6,865.6 L535.6,864.0 L535.0,862.0 L538.4,859.8 L542.4,860.6 L546.4,862.6 L550.6,864.6 L554.6,866.6 L557.4,869.4 L562.0,870.0 L565.0,868.0 L564.0,864.0 L560.0,861.0 L557.4,859.4 L553.2,857.4 L549.2,854.6 L545.2,851.4 Z" fill="#cdcdcd"/>
<path d="M531.0,1094.0 L530.0,1097.0 L526.0,1099.0 L522.0,1100.0 L519.0,1103.0 L517.0,1107.0 L516.0,1111.0 L518.0,1115.0 L517.0,1119.0 L513.0,1123.0 L509.0,1127.0 L505.0,1130.0 L501.0,1133.0 L501.6,1137.0 L503.0,1142.0 L501.0,1148.0 L498.4,1150.0 L498.0,1154.0 L501.0,1158.0 L504.0,1160.0 L499.0,1160.0 L495.6,1156.0 L493.6,1151.0 L494.0,1147.0 L497.0,1144.0 L496.0,1139.0 L493.0,1136.0 L489.0,1133.0 L486.0,1130.0 L488.0,1128.0 L492.0,1129.0 L496.0,1130.0 L500.0,1127.0 L504.0,1123.0 L508.0,1118.0 L511.6,1114.0 L512.0,1110.0 L511.0,1105.0 L513.0,1101.0 L518.0,1097.0 L523.0,1094.0 L528.0,1092.0 Z" fill="#cdcdcd"/>
<path d="M562.0,1113.6 L558.0,1117.0 L553.0,1117.0 L549.0,1119.0 L546.0,1120.0 L544.0,1123.0 L545.0,1127.0 L546.4,1131.0 L545.0,1132.4 L543.0,1130.0 L541.0,1129.0 L539.0,1132.0 L537.0,1133.0 L536.0,1130.0 L537.0,1127.0 L535.0,1123.0 L534.4,1120.0 L537.0,1119.0 L538.4,1122.0 L540.0,1125.0 L542.0,1122.0 L541.6,1119.0 L545.0,1117.0 L549.0,1116.0 L552.0,1114.4 L557.0,1114.4 L561.0,1112.6 Z" fill="#cdcdcd"/>
</g>
<g id="footer">
<text y="1200.50" font-size="15" fill="#858585" font-style="italic"><tspan x="17.00" textLength="5.00" lengthAdjust="spacingAndGlyphs">*</tspan> <tspan x="24.50" textLength="31.00" lengthAdjust="spacingAndGlyphs">Datos</tspan> <tspan x="58.00" textLength="24.50" lengthAdjust="spacingAndGlyphs">2011</tspan></text>
<text x="176.20" y="1199.80" font-size="13.5" fill="#9a9a9a" textLength="433.70" lengthAdjust="spacingAndGlyphs" font-style="italic">Fuentes: Conferencia de Directores Cantonales de Finanzas, Administración Federal de Finanzas.</text>
<text x="678.70" y="1200.60" font-size="11" fill="#4f4f4f" textLength="55.70" lengthAdjust="spacingAndGlyphs">swissinfo.ch</text>
</g>
</svg>
</body>
</html>
